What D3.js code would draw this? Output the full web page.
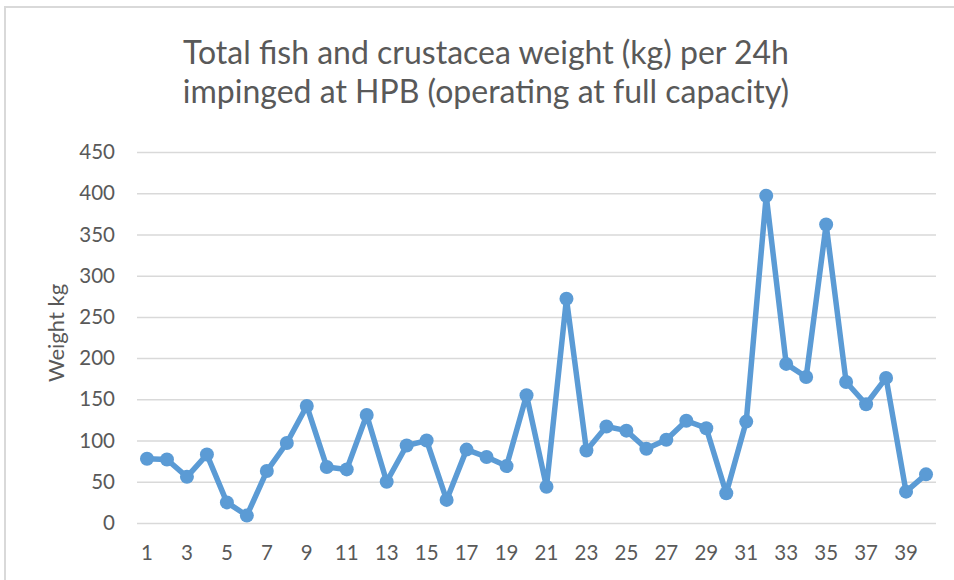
<!DOCTYPE html>
<html>
<head>
<meta charset="utf-8">
<script src="https://cdn.jsdelivr.net/npm/d3@7.8.5/dist/d3.min.js"></script>
<style>
  html, body { margin: 0; padding: 0; background: #fff; }
  svg { display: block; }
  svg text { font-family: Lato, "Open Sans", sans-serif; }
</style>
</head>
<body>
<svg id="chart" width="954" height="580"></svg>
<script>
// sample number along the x axis
const samples = d3.range(1, 41);

// weight in kg per 24h
const weights = [
  78, 77, 56, 83, 25, 9, 63, 97, 142, 68,
  65, 131, 50, 94, 100, 28, 89, 80, 69, 155,
  44, 272, 88, 117, 112, 90, 101, 124, 115, 36,
  123, 397, 193, 177, 362, 171, 144, 176, 38, 59
];

const yTicks = [0, 50, 100, 150, 200, 250, 300, 350, 400, 450];
const xTickLabels = samples.filter((d) => d % 2 === 1);

const titleLines = [
  "Total fish and crustacea weight (kg) per 24h",
  "impinged at HPB (operating at full capacity)"
];
const yLabel = "Weight kg";

const width = 954;
const height = 580;
const margin = { top: 152, right: 18, bottom: 57, left: 137 };
const textColor = "#595959";
const gridColor = "#d9d9d9";
const lineColor = "#5b9bd5";

const svg = d3.select("#chart");

// chart area border (only top and left show in the picture)
svg.append("path")
  .attr("d", `M5,${height} V7 H${width}`)
  .attr("fill", "none")
  .attr("stroke", gridColor)
  .attr("stroke-width", 2);

const x = d3.scaleBand()
  .domain(samples)
  .range([margin.left, width - margin.right]);

const y = d3.scaleLinear()
  .domain([0, 450])
  .range([height - margin.bottom, margin.top]);

// gridlines + y labels
const yAxis = svg.append("g")
  .attr("transform", `translate(${margin.left},0)`)
  .call(
    d3.axisLeft(y)
      .tickValues(yTicks)
      .tickSize(-(width - margin.left - margin.right))
      .tickPadding(22)
  )
  .attr("font-family", null)
  .attr("font-size", 20.5);
yAxis.select(".domain").remove();
yAxis.selectAll(".tick line")
  .attr("stroke", gridColor)
  .attr("stroke-width", 1.5);
yAxis.selectAll(".tick text").attr("fill", textColor);

// x labels
const xAxis = svg.append("g")
  .attr("transform", `translate(0,${height - margin.bottom})`)
  .call(d3.axisBottom(x).tickValues(xTickLabels).tickSize(0).tickPadding(22))
  .attr("font-family", null)
  .attr("font-size", 20.5);
xAxis.select(".domain").remove();
xAxis.selectAll(".tick text").attr("fill", textColor);

// line + markers
const cx = (d, i) => x(samples[i]) + x.bandwidth() / 2;
const line = d3.line()
  .x((d, i) => cx(d, i))
  .y((d) => y(d));

svg.append("path")
  .datum(weights)
  .attr("d", line)
  .attr("fill", "none")
  .attr("stroke", lineColor)
  .attr("stroke-width", 5.5)
  .attr("stroke-linejoin", "round");

svg.append("g")
  .selectAll("circle")
  .data(weights)
  .enter()
  .append("circle")
  .attr("cx", (d, i) => cx(d, i))
  .attr("cy", (d) => y(d))
  .attr("r", 7)
  .attr("fill", lineColor);

// y axis title
svg.append("text")
  .attr("transform", "translate(64,333) rotate(-90)")
  .attr("text-anchor", "middle")
  .style("font-size", "22px")
  .attr("fill", textColor)
  .text(yLabel);

// chart title, sized to the width it takes in the picture
const title = svg.append("g");
titleLines.forEach((t, i) => {
  const el = title.append("text")
    .attr("x", 486)
    .attr("y", 64 + i * 39)
    .attr("text-anchor", "middle")
    .style("font-size", "28px")
    .attr("fill", textColor)
    .text(t);
  const w = el.node().getComputedTextLength();
  el.style("font-size", Math.min(32, 28 * 650 / w).toFixed(2) + "px");
});
</script>
</body>
</html>
